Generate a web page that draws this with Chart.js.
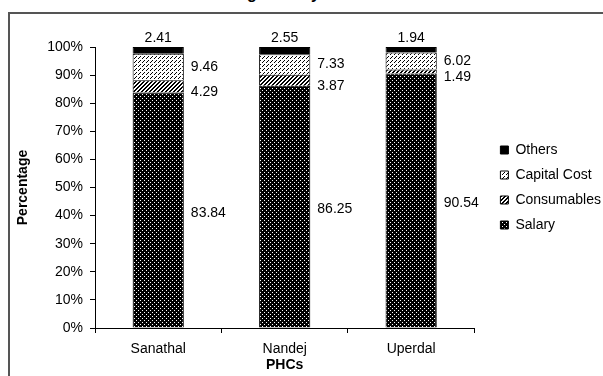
<!DOCTYPE html>
<html>
<head>
<meta charset="utf-8">
<script src="https://cdn.jsdelivr.net/npm/chart.js@4.4.1/dist/chart.umd.min.js"></script>
<style>
  html, body { margin: 0; padding: 0; background: #fff; overflow: hidden; }
  body { width: 603px; height: 376px; position: relative; }
  #frame { position: absolute; left: 8px; top: 12px; width: 700px; height: 500px; border: 2px solid #555; box-sizing: border-box; }
  #title { position: absolute; left: 192px; top: -14px; font: bold 16px/16px "Liberation Sans", Arial, sans-serif; color: #000; white-space: nowrap; }
  #chart { position: absolute; left: 0; top: 0; }
</style>
</head>
<body>
<div id="frame"></div>
<div id="title">Running Cost by Head</div>
<canvas id="chart" width="603" height="376"></canvas>
<script>
// data
const phcs = ['Sanathal', 'Nandej', 'Uperdal'];
const salary = [83.84, 86.25, 90.54];
const consumables = [4.29, 3.87, 1.49];
const capitalCost = [9.46, 7.33, 6.02];
const others = [2.41, 2.55, 1.94];

const FONT = '"Liberation Sans", Arial, sans-serif';

// fill patterns (excel style)
function makePattern(size, bg, fg, pixels) {
  const c = document.createElement('canvas');
  c.width = c.height = size;
  const x = c.getContext('2d');
  x.fillStyle = bg;
  x.fillRect(0, 0, size, size);
  x.fillStyle = fg;
  pixels.forEach(([a, b]) => x.fillRect(a, b, 1, 1));
  return x.createPattern(c, 'repeat');
}

const hatch = [];
for (let i = 0; i < 4; i++) for (let j = 0; j < 4; j++) if ((i + j) % 4 < 2) hatch.push([i, j]);

const salaryFill = makePattern(4, '#000', '#fff', [[0, 0], [2, 2]]);
const consFill = makePattern(4, '#fff', '#000', hatch);
const capFill = makePattern(4, '#fff', '#000', [[0, 0], [2, 2], [3, 1]]);

// value labels next to the segments
const valueLabels = {
  id: 'valueLabels',
  afterDatasetsDraw(chart) {
    const ctx = chart.ctx;
    ctx.save();
    ctx.font = '14px ' + FONT;
    ctx.fillStyle = '#000';
    chart.data.datasets.forEach((ds, i) => {
      const meta = chart.getDatasetMeta(i);
      meta.data.forEach((bar, j) => {
        const txt = ds.data[j].toFixed(2);
        if (ds.label === 'Others') {
          ctx.textAlign = 'center';
          ctx.textBaseline = 'middle';
          ctx.fillText(txt, bar.x, bar.y - 9);
        } else {
          const shift = ds.label === 'Consumables' ? 6 : ds.label === 'Salary' ? 3 : 0;
          ctx.textAlign = 'left';
          ctx.textBaseline = 'middle';
          ctx.fillText(txt, bar.x + bar.width / 2 + 7, (bar.y + bar.base) / 2 + shift);
        }
      });
    });
    ctx.restore();
  }
};

// push legend a bit to the right
const legendShift = {
  id: 'legendShift',
  afterLayout(chart) {
    chart.legend.left += 15;
    chart.legend.right += 15;
  }
};

const common = { borderColor: '#000', borderWidth: 1, categoryPercentage: 1, barPercentage: 0.405 };

new Chart(document.getElementById('chart'), {
  type: 'bar',
  data: {
    labels: phcs,
    datasets: [
      { label: 'Salary', data: salary, backgroundColor: salaryFill, ...common },
      { label: 'Consumables', data: consumables, backgroundColor: consFill, ...common },
      { label: 'Capital Cost', data: capitalCost, backgroundColor: capFill, ...common },
      { label: 'Others', data: others, backgroundColor: '#000', ...common }
    ]
  },
  options: {
    responsive: false,
    animation: false,
    layout: { padding: { top: 47, right: 7, bottom: 0, left: 0 } },
    plugins: {
      legend: {
        position: 'right',
        reverse: true,
        fullSize: false,
        labels: { boxWidth: 8, boxHeight: 8, padding: 11, color: '#000', font: { size: 14, family: FONT } }
      },
      tooltip: { enabled: false }
    },
    scales: {
      x: {
        stacked: true,
        grid: { offset: true, drawOnChartArea: false, tickLength: 5, color: '#000' },
        border: { color: '#000' },
        ticks: { color: '#000', padding: 8, maxRotation: 0, font: { size: 14, family: FONT } },
        title: { display: true, text: 'PHCs', color: '#000', padding: { top: 0, bottom: 2 }, font: { size: 14, weight: 'bold', family: FONT } },
        afterFit: s => { s.height = 48; }
      },
      y: {
        stacked: true,
        min: 0,
        max: 100,
        grid: { drawOnChartArea: false, tickLength: 5, color: '#000' },
        border: { color: '#000' },
        ticks: { stepSize: 10, padding: 7, color: '#000', font: { size: 14, family: FONT }, callback: v => v + '%' },
        title: { display: true, text: 'Percentage', color: '#000', padding: { top: 15, bottom: 0 }, font: { size: 14, weight: 'bold', family: FONT } },
        afterFit: s => { s.width = 95; }
      }
    }
  },
  plugins: [valueLabels, legendShift]
});
</script>
</body>
</html>
